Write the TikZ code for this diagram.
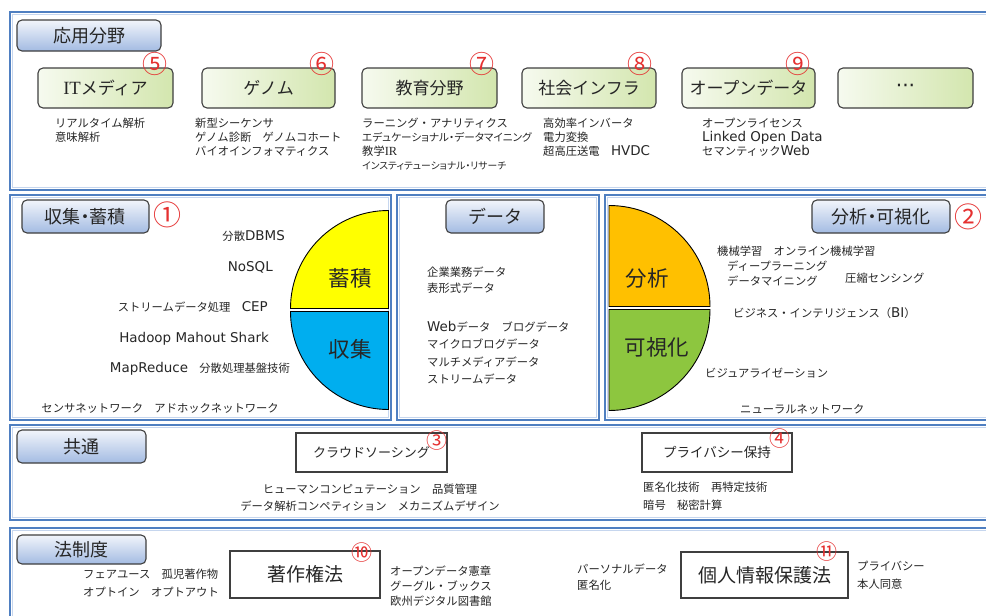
\documentclass[tikz,border=0pt]{standalone}
\usepackage{fontspec}
\setmainfont{Noto Sans CJK JP}
\newfontfamily\paltf{Noto Sans CJK JP}[RawFeature=+palt]
\newfontfamily\latf{DejaVu Sans}[Scale=1.19]
\newfontfamily\serf{Liberation Serif}[Scale=1.1]
\definecolor{pblue}{HTML}{4F7FC1}
\definecolor{plight}{HTML}{C6D6EE}
\definecolor{tcol}{HTML}{262626}
\definecolor{numred}{HTML}{E53030}
\definecolor{lbtop}{HTML}{F2F5FB}
\definecolor{lbbot}{HTML}{A3BBE2}
\definecolor{gl}{HTML}{F6FAEF}
\definecolor{gr}{HTML}{D3E6AE}
\definecolor{bord}{HTML}{3F3F3F}
\definecolor{cyel}{HTML}{FFFF00}
\definecolor{cblu}{HTML}{00AEEF}
\definecolor{corg}{HTML}{FFC000}
\definecolor{cgrn}{HTML}{8DC63F}
\newcommand\pnl[4]{%
  \draw[pnlout] (#1,#2) rectangle (#3,#4);
  \draw[pnlin] ([shift={(2.4,2.4)}]#1,#2) rectangle ([shift={(-2.4,-2.4)}]#3,#4);}
\begin{document}
\begin{tikzpicture}[x=1pt,y=-1pt,
  pnlout/.style={draw=pblue, line width=2.3pt},
  pnlin/.style={draw=plight, line width=0.9pt},
  lbl/.style={rectangle, rounded corners=5pt, draw=bord, line width=1.1pt,
    top color=lbtop, bottom color=lbbot, text=tcol, inner sep=0pt,
    font=\fontsize{18}{18}\selectfont},
  gbox/.style={rectangle, rounded corners=5pt, draw=bord, line width=1.1pt,
    left color=gl, right color=gr, text=tcol, inner sep=0pt,
    minimum height=40pt, font=\fontsize{17}{17}\selectfont},
  pbox/.style={rectangle, draw=bord, line width=1.1pt, fill=white, text=tcol, inner sep=0pt},
  num/.style={text=numred, inner sep=0pt, font=\fontsize{25}{25}\selectfont},
  bignum/.style={text=numred, inner sep=0pt, font=\fontsize{28}{28}\selectfont},
  smallnum/.style={text=numred, inner sep=0pt, font=\fontsize{21}{21}\selectfont},
  txt/.style={inner sep=0pt, text=tcol, align=left, font=\fontsize{11.3}{14}\selectfont},
  quart/.style={draw=black, line width=0.9pt},
  big/.style={inner sep=0pt, text=black!85, font=\fontsize{21.5}{21.5}\selectfont}
]
\useasboundingbox (0,0) rectangle (986,616);
\fill[white] (0,0) rectangle (986,616);
\clip (0,0) rectangle (986,616);

% panels
\pnl{10}{12}{1000}{190}
\pnl{10}{195}{391}{420}
\pnl{397}{195}{599}{420}
\pnl{605}{195}{1000}{420}
\pnl{10}{425}{1000}{520}
\pnl{10}{528}{1000}{640}

% ---------- 応用分野 ----------
\node[lbl, minimum width=144pt, minimum height=31pt] (lApp) at (89,35.5) {応用分野};
\node[gbox, minimum width=135pt] (gIT) at (105.5,88) {{\serf IT}メディア};
\node[gbox, minimum width=133pt] (gGen) at (268.5,88) {ゲノム};
\node[gbox, minimum width=135pt] (gEdu) at (429.5,88) {教育分野};
\node[gbox, minimum width=134pt] (gInf) at (589,88) {社会インフラ};
\node[gbox, minimum width=133pt] (gOpn) at (748.5,88) {オープンデータ};
\node[gbox, minimum width=135pt] (gEtc) at (905.5,88) {{\latf ···}};
\node[num] (n5) at (155,64) {⑤};
\node[num] (n6) at (322,64) {⑥};
\node[num] (n7) at (482,64) {⑦};
\node[num] (n8) at (640,64) {⑧};
\node[num] (n9) at (798,64) {⑨};

\node[txt, anchor=north west] (t5) at (55,118) {リアルタイム解析\\意味解析};
\node[txt, anchor=north west] (t6) at (195,118) {新型シーケンサ\\ゲノム診断　ゲノムコホート\\バイオインフォマティクス};
\node[txt, anchor=north west] (t7) at (362,118) {ラーニング・アナリティクス\\{\paltf\fontsize{10.6}{14}\selectfont エデュケーショナル・データマイニング}\\教学{\serf IR}\\{\paltf\fontsize{9.8}{14}\selectfont インスティテューショナル・リサーチ}};
\node[txt, anchor=north west] (t8) at (543,118) {高効率インバータ\\電力変換\\超高圧送電　{\latf HVDC}};
\node[txt, anchor=north west] (t9) at (702,118) {オープンライセンス\\{\latf Linked Open Data}\\セマンティック{\latf Web}};

% ---------- 収集・蓄積 ----------
\node[lbl, minimum width=127pt, minimum height=33pt] (lCol) at (85.5,216.5) {\paltf 収集・蓄積};
\node[bignum] (n1) at (167,215) {①};
\draw[quart, fill=cyel] (388.5,308.5) -- (290.5,308.5) arc[start angle=180, end angle=90, radius=98pt] -- cycle;
\draw[quart, fill=cblu] (388.5,311.5) -- (290.5,311.5) arc[start angle=180, end angle=270, radius=98pt] -- cycle;
\node[big] (bSto) at (350,278) {蓄積};
\node[big] (bCol) at (350,349) {収集};
\node[txt, anchor=east] (c1) at (285,236) {分散{\latf DBMS}};
\node[txt, anchor=east] (c2) at (273,267) {{\latf NoSQL}};
\node[txt, anchor=east] (c3) at (268,307) {ストリームデータ処理　{\latf CEP}};
\node[txt, anchor=east] (c4) at (269,339) {{\latf Hadoop Mahout Shark}};
\node[txt, anchor=east] (c5) at (290,369) {{\latf MapReduce}　分散処理基盤技術};
\node[txt, anchor=east] (c6) at (279,408) {センサネットワーク　アドホックネットワーク};

% ---------- データ ----------
\node[lbl, minimum width=98pt, minimum height=33pt] (lDat) at (495,216.5) {データ};
\node[txt, anchor=north west, font=\fontsize{11.3}{16}\selectfont] (d1) at (427,267) {企業業務データ\\表形式データ};
\node[txt, anchor=north west, font=\fontsize{11.3}{17.3}\selectfont] (d2) at (427,321) {{\latf Web}データ　ブログデータ\\マイクロブログデータ\\マルチメディアデータ\\ストリームデータ};

% ---------- 分析・可視化 ----------
\node[lbl, minimum width=138pt, minimum height=33pt] (lAna) at (881,216.5) {\paltf 分析・可視化};
\node[bignum] (n2) at (968,217) {②};
\draw[quart, fill=corg] (609,306.5) -- (710,306.5) arc[start angle=0, end angle=90, radius=101pt] -- cycle;
\draw[quart, fill=cgrn] (609,309.5) -- (710,309.5) arc[start angle=0, end angle=-90, radius=101pt] -- cycle;
\node[big] (bAna) at (647,278) {分析};
\node[big] (bVis) at (657,347) {可視化};
\node[txt, anchor=west] (a1) at (717,251) {機械学習　オンライン機械学習};
\node[txt, anchor=north west, font=\fontsize{11.3}{15}\selectfont] (a2) at (727,261) {ディープラーニング\\データマイニング};
\node[txt, anchor=west] (a3) at (845,278) {圧縮センシング};
\node[txt, anchor=west] (a4) at (733,313) {ビジネス・インテリジェンス（{\latf BI}）};
\node[txt, anchor=west] (a5) at (705,373) {ビジュアライゼーション};
\node[txt, anchor=west] (a6) at (740,409) {ニューラルネットワーク};

% ---------- 共通 ----------
\node[lbl, minimum width=129pt, minimum height=33pt] (lCom) at (81.5,446.5) {共通};
\node[pbox, minimum width=151pt, minimum height=39pt, font=\fontsize{13}{13}\selectfont] (bCrd) at (371.5,452.5) {クラウドソーシング};
\node[pbox, minimum width=150pt, minimum height=39pt, font=\fontsize{13.5}{13.5}\selectfont] (bPrv) at (717,452.5) {プライバシー保持};
\node[smallnum] (n3) at (437,441) {③};
\node[smallnum] (n4) at (780,439) {④};
\node[txt, anchor=north, align=center, font=\fontsize{11.3}{17}\selectfont] (k1) at (370,484) {ヒューマンコンピュテーション　品質管理\\データ解析コンペティション　メカニズムデザイン};
\node[txt, anchor=north west, font=\fontsize{11.3}{18}\selectfont] (k2) at (643,482) {匿名化技術　再特定技術\\暗号　秘密計算};

% ---------- 法制度 ----------
\node[lbl, minimum width=129pt, minimum height=29pt] (lLaw) at (81.5,549.5) {法制度};
\node[pbox, minimum width=150pt, minimum height=47pt, font=\fontsize{19}{19}\selectfont] (bCpy) at (305,574.5) {著作権法};
\node[pbox, minimum width=167pt, minimum height=46pt, font=\fontsize{19}{19}\selectfont] (bPer) at (764.5,575) {個人情報保護法};
\node[smallnum] (n10) at (362,553) {⑩};
\node[smallnum] (n11) at (827,552) {⑪};
\node[txt, anchor=north west, font=\fontsize{11.3}{18}\selectfont] (w1) at (83,569) {フェアユース　孤児著作物\\オプトイン　オプトアウト};
\node[txt, anchor=north west, font=\fontsize{11.3}{15}\selectfont] (w2) at (390,566) {オープンデータ憲章\\グーグル・ブックス\\欧州デジタル図書館};
\node[txt, anchor=north west, font=\fontsize{11.3}{16}\selectfont] (w3) at (577,564) {パーソナルデータ\\匿名化};
\node[txt, anchor=north west, font=\fontsize{11.3}{18}\selectfont] (w4) at (857,561) {プライバシー\\本人同意};
\end{tikzpicture}
\end{document}
